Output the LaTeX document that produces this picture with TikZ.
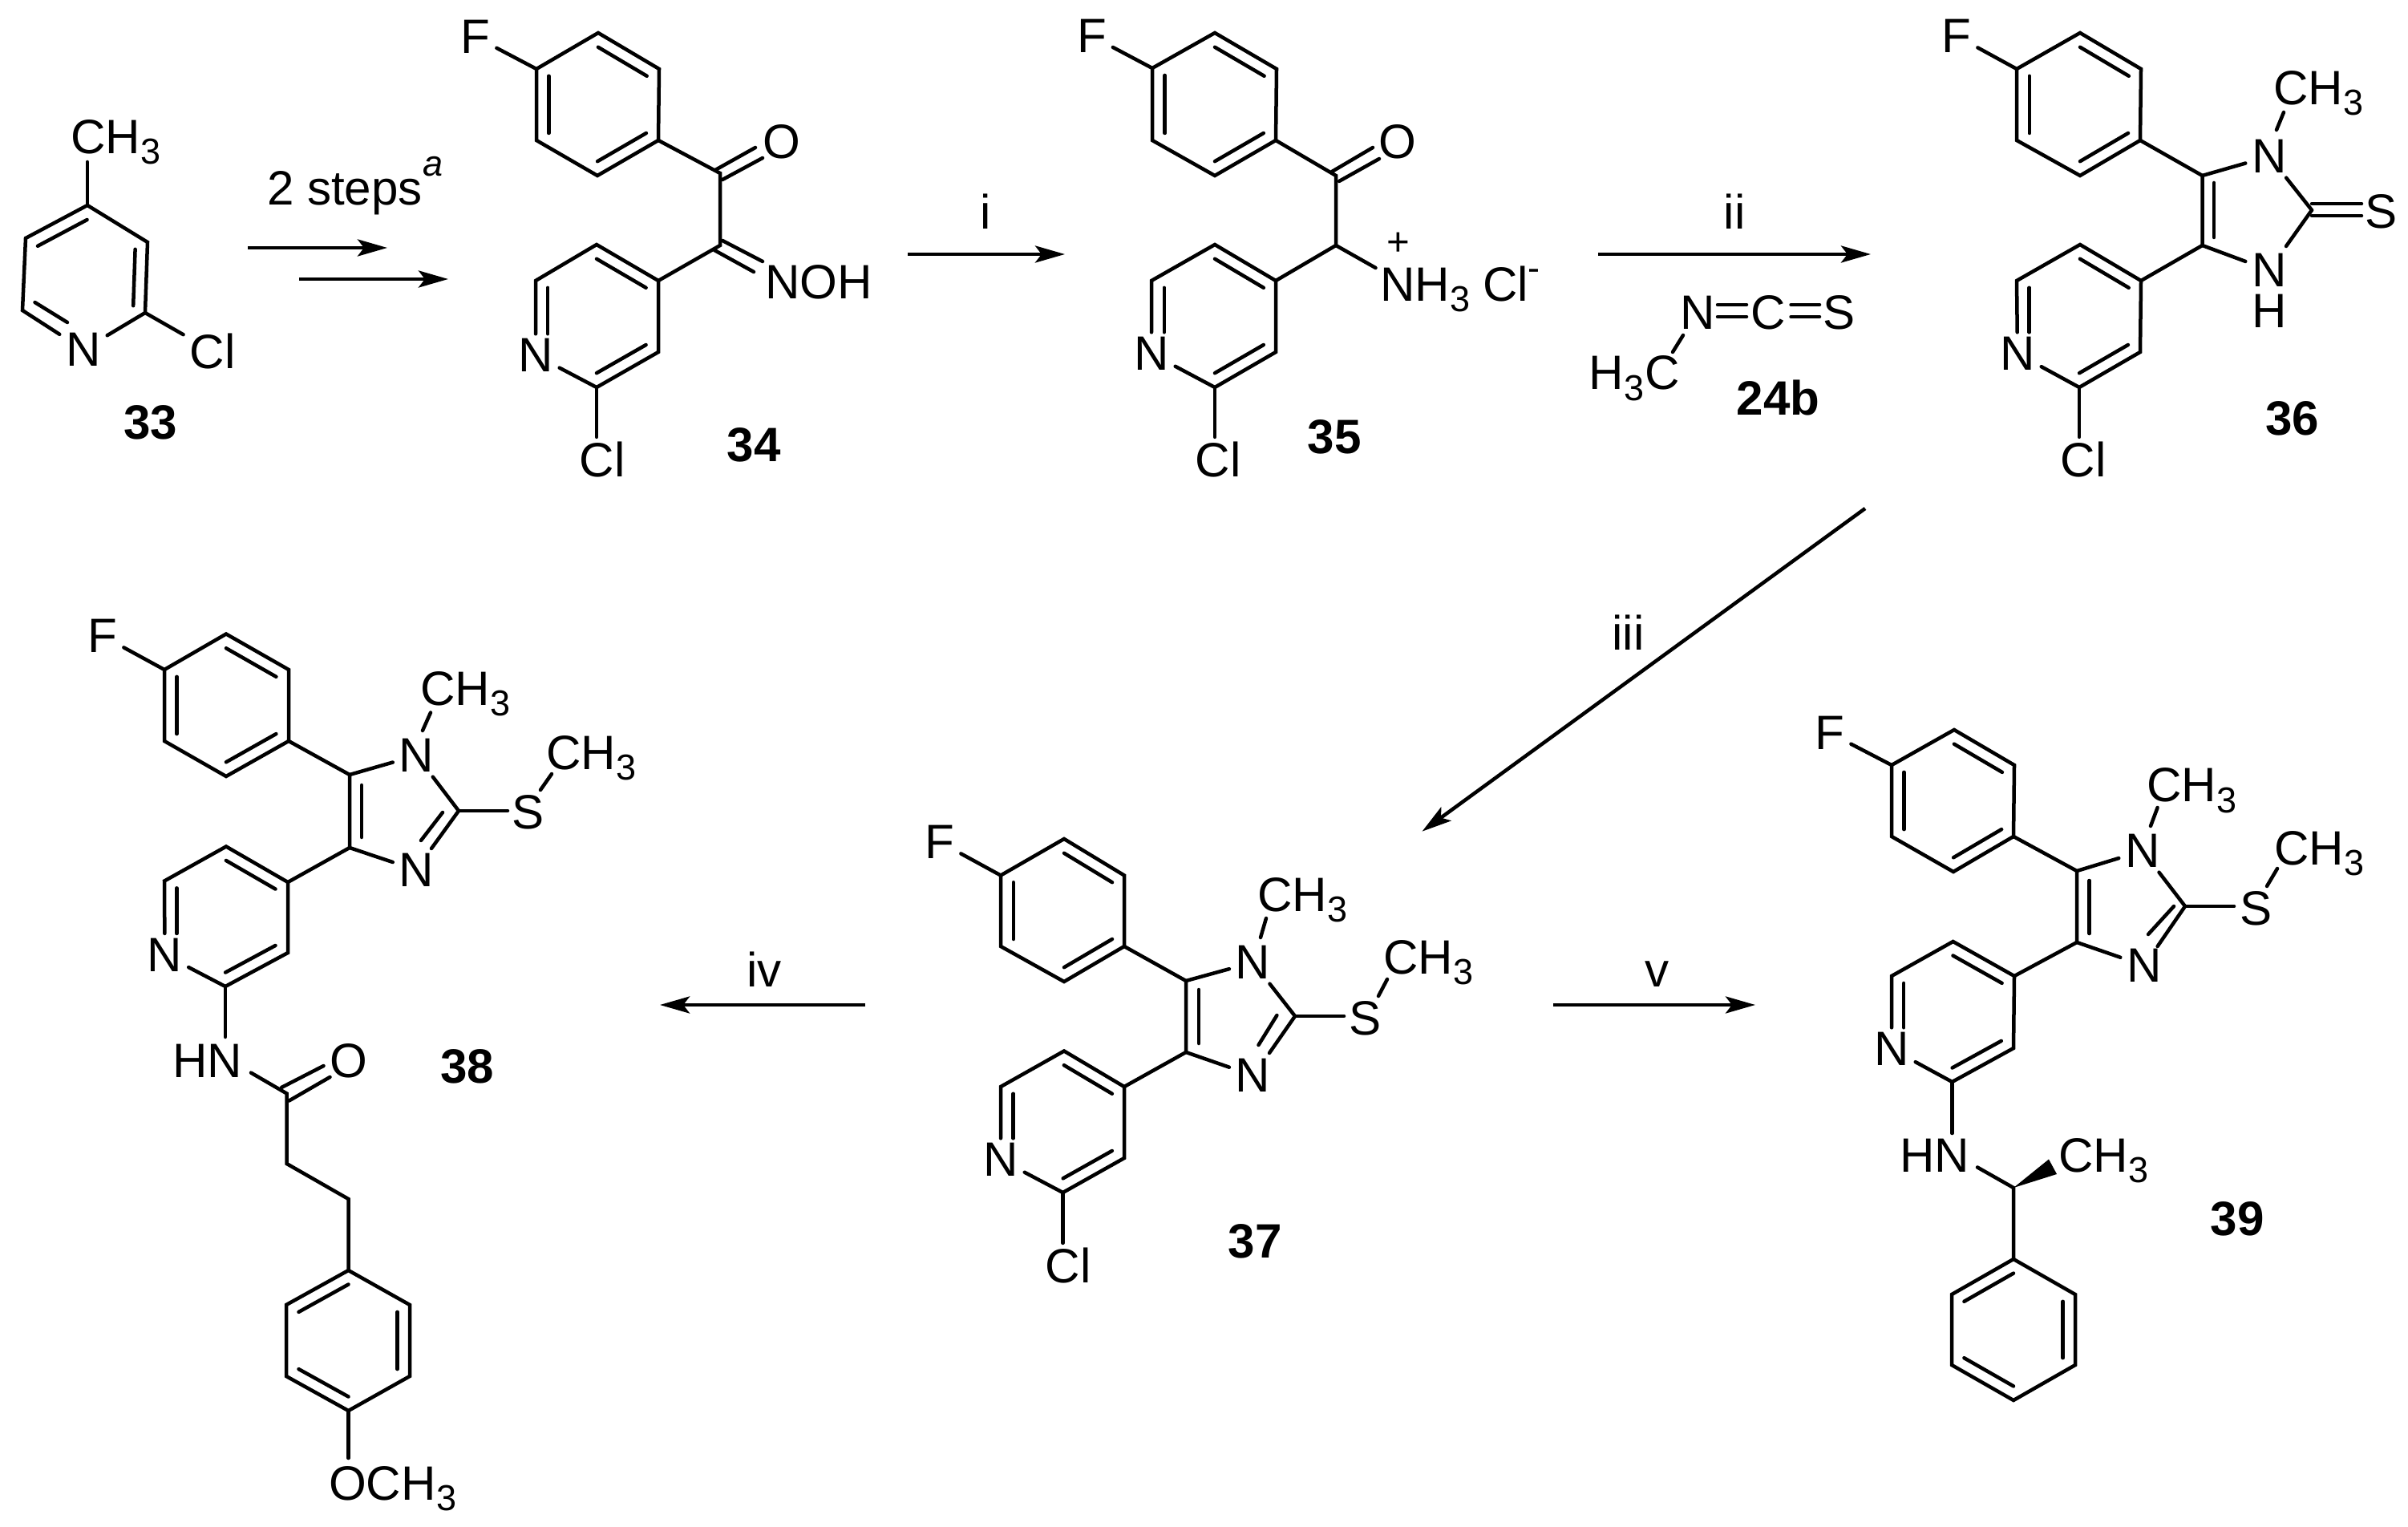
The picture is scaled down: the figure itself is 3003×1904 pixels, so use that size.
\documentclass[tikz,border=0pt]{standalone}
\usepackage{fontspec}
\setmainfont{Liberation Sans}
\usetikzlibrary{calc,arrows.meta}
\newcommand\tsub{\kern.01cm\raisebox{-.13cm}{\fontsize{12.8pt}{12.8pt}\selectfont 3}}
\newcommand\txsz{\fontsize{17.1pt}{19pt}\selectfont}
\tikzset{
  bond/.style={line width=.045cm,line cap=round},
  atom/.style={inner xsep=.08cm,inner ysep=.06cm,outer sep=0pt,font=\txsz},
  lab/.style={inner sep=0pt,outer sep=0pt,anchor=base west,font=\txsz},
  cond/.style={inner sep=0pt,outer sep=0pt,anchor=base,font=\txsz},
  cpd/.style={inner sep=0pt,outer sep=0pt,font=\txsz\bfseries},
  rxn/.style={line width=.045cm,-{Stealth[length=.37cm,width=.21cm,inset=.08cm]}}
}
\newcommand\inb[3]{\draw[bond] ($(#1)!.2!(#3)$) -- ($(#2)!.2!(#3)$);}
\newcommand\seg[3]{\coordinate (#1a) at (#2);\coordinate (#1b) at (#3);\draw[bond] (#1a)--(#1b);}
\newcommand\arw[3]{\coordinate (#1a) at (#2);\coordinate (#1b) at (#3);\draw[rxn] (#1a)--(#1b);}
\newcommand\hexv[7]{\coordinate (#1a) at (#2);\coordinate (#1b) at (#3);\coordinate (#1c) at (#4);
  \coordinate (#1d) at (#5);\coordinate (#1e) at (#6);\coordinate (#1f) at (#7);
  \coordinate (#1o) at ($(#1a)!.5!(#1d)$);
  \draw[bond] (#1a)--(#1b)--(#1c)--(#1d)--(#1e)--(#1f)--cycle;}
% fluorophenyl type: top-ur, lr-bot, ll-ul double
\newcommand\fring[7]{\hexv{#1}{#2}{#3}{#4}{#5}{#6}{#7}
  \inb{#1a}{#1b}{#1o}\inb{#1c}{#1d}{#1o}\inb{#1e}{#1f}{#1o}}
% phenyl type: top-ul, ur-lr, ll-bot double
\newcommand\pring[7]{\hexv{#1}{#2}{#3}{#4}{#5}{#6}{#7}
  \inb{#1a}{#1f}{#1o}\inb{#1b}{#1c}{#1o}\inb{#1e}{#1d}{#1o}}
% pyridine: top, ur, lr, bot, N, ul
\newcommand\pyring[7]{\coordinate (#1a) at (#2);\coordinate (#1b) at (#3);\coordinate (#1c) at (#4);
  \coordinate (#1d) at (#5);\node[atom] (#1N) at (#6) {N};\coordinate (#1f) at (#7);
  \coordinate (#1o) at ($(#1a)!.5!(#1d)$);
  \draw[bond] (#1d)--(#1N)--(#1f)--(#1a)--(#1b)--(#1c)--(#1d);
  \inb{#1a}{#1b}{#1o}\inb{#1c}{#1d}{#1o}
  \coordinate (#1q) at ($(#1f)!.2!(#1o)$);\draw[bond] (#1q)--(#1q |- #1N.north);}
\begin{document}
\begin{tikzpicture}[x=.01cm,y=-.01cm]
\fill[white] (0,0) rectangle (3003,1904);
\useasboundingbox (0,0) rectangle (3003,1904);

% ---- 33
\coordinate (a1) at (109,256);\coordinate (a2) at (184,302);\coordinate (a3) at (181,390);
\coordinate (a5) at (28,387);\coordinate (a6) at (32,297);\coordinate (ao) at (107,346);
\node[atom] (aN) at (104,436) {N};
\node[atom] (aCl) at (265,438) {Cl};
\draw[bond] (aN)--(a3)--(a2)--(a1)--(a6)--(a5)--(aN);
\draw[bond] (a3)--(aCl);
\inb{a1}{a6}{ao}\inb{a2}{a3}{ao}
\seg{aD}{43.5,377}{84,402}
\node[lab] (aMe) at (88,192) {CH\tsub};
\seg{aM}{109,256}{109,202}
\node[cpd] (c33) at (188,527) {33};

% arrows 33->34
\arw{s1}{309,309}{483,309}
\arw{s2}{373,348}{559,348}
\node[lab] (steps) at (333,256) {2 steps\kern.01cm\raisebox{.36cm}{\fontsize{12.8pt}{12.8pt}\selectfont\itshape a}};

% ---- 34
\fring{b}{746,41}{822,86}{821,175}{745,219}{669,175}{669,86}
\node[atom] (bF) at (593,46) {F};
\draw[bond] (bf)--(bF);
\pyring{e}{744,305}{821,350}{821,439}{744,483}{668,443}{668,350}
\coordinate (bCO) at (898,216);\coordinate (bCN) at (898,306);
\draw[bond] (bc)--(bCO)--(bCN)--(eb);
\node[atom] (bO) at (975,177) {O};
\seg{bO1}{892,212}{942,184}\seg{bO2}{901,224}{951,197}
\seg{bN1}{901,300}{951,326}\seg{bN2}{891,312}{940,339}
\node[lab] (bNOH) at (954,373) {NOH};
\node[atom] (eCl) at (751,573) {Cl};
\draw[bond] (ed)--(ed |- eCl.north);
\node[cpd] (c34) at (940,555) {34};

% arrow i
\arw{r1}{1132,317}{1328,317}
\node[cond] (ti) at (1229.5,286) {i};

% ---- 35
\fring{f}{1515,41}{1592,86}{1591,175}{1515,219}{1437,175}{1437,85}
\node[atom] (fF) at (1361.5,45) {F};
\draw[bond] (ff)--(fF);
\pyring{g}{1515,305}{1591,350}{1591,439}{1515,483}{1436,441}{1436,350}
\coordinate (fCO) at (1666,219);\coordinate (fCH) at (1666,306);\coordinate (fNe) at (1715.5,334);
\draw[bond] (fc)--(fCO)--(fCH)--(gb);
\draw[bond] (fCH)--(fNe);
\node[atom] (fO) at (1743,177) {O};
\seg{fO1}{1661,214}{1712,184}\seg{fO2}{1670,226}{1720,198}
\node[lab] (fN) at (1721,376) {NH\tsub};
\node[inner sep=0pt,font=\fontsize{14pt}{14pt}\selectfont] (fp) at (1743.5,304) {+};
\node[lab] (fCl) at (1849,376) {Cl\raisebox{.26cm}{\fontsize{12.8pt}{12.8pt}\selectfont -}};
\node[atom] (gCl) at (1519,573) {Cl};
\draw[bond] (gd)--(gd |- gCl.north);
\node[cpd] (c35) at (1664,545) {35};

% arrow ii, reagent 24b
\arw{r2}{1993,317}{2333,317}
\node[cond] (tii) at (2163,286) {ii};
\node[atom] (iN) at (2117,390) {N};
\node[atom] (iC) at (2205,390) {C};
\node[atom] (iS) at (2294,390) {S};
\seg{iA1}{2142,380}{2178,380}\seg{iA2}{2142,395}{2178,395}
\seg{iB1}{2233.5,380}{2269,380}\seg{iB2}{2233.5,395}{2269,395}
\node[lab] (iMe) at (1981,486) {H\tsub\kern.01cm C};
\seg{iM}{2099,418}{2086,439}
\node[cpd] (c24) at (2217.5,496) {24b};

% ---- 36
\fring{h}{2594,41}{2670,86}{2669,175}{2594,219}{2515,175}{2515,86}
\node[atom] (hF) at (2440,45) {F};
\draw[bond] (hf)--(hF);
\pyring{j}{2594,305}{2670,350}{2669,439}{2593,483}{2516,441}{2515,350}
\coordinate (hC4) at (2746.5,219);\coordinate (hC5) at (2746.5,306);\coordinate (hC2) at (2883,262);
\node[atom] (hN1) at (2830,195) {N};
\node[atom] (hN3) at (2830,337) {N};
\node[atom,inner ysep=0pt] (hH) at (2830,388) {H};
\node[atom] (hS) at (2970,264) {S};
\draw[bond] (hc)--(hC4)--(hC5)--(jb);
\draw[bond] (hC4)--(hN1)--(hC2);
\draw[bond] (hC5)--(hN3);
\seg{hE}{2851,307}{2883,262}
\seg{hI}{2761,228}{2761,296}
\seg{hS1}{2883,254}{2945,254}\seg{hS2}{2883,269}{2945,269}
\seg{hM}{2839,162}{2848,140}
\node[lab] (hMe) at (2835,131) {CH\tsub};
\node[atom] (jCl) at (2598,573) {Cl};
\draw[bond] (jd)--(jd |- jCl.north);
\node[cpd] (c36) at (2858.5,522) {36};

% arrow iii
\arw{r3}{2326,634}{1773.5,1036.7}
\node[cond] (tiii) at (2030.5,810.5) {iii};

% ---- 37
\fring{k}{1327,1046}{1402,1091.5}{1402,1180}{1327,1224}{1248,1180}{1248,1091.5}
\node[atom] (kF) at (1172,1050) {F};
\draw[bond] (kf)--(kF);
\pyring{m}{1327,1310.5}{1402,1355}{1402,1444}{1325.5,1487}{1248,1446}{1248,1355}
\coordinate (kC4) at (1479,1223);\coordinate (kC5) at (1479,1312);\coordinate (kC2) at (1615,1267);
\node[atom] (kN1) at (1562.6,1200) {N};
\node[atom] (kN3) at (1562.6,1341) {N};
\node[atom] (kS) at (1703,1270) {S};
\draw[bond] (kc)--(kC4)--(kC5)--(mb);
\draw[bond] (kC4)--(kN1)--(kC2);
\draw[bond] (kC5)--(kN3);
\seg{kE}{1615,1267}{1583,1313}
\seg{kJ}{1592.4,1266}{1569.5,1303}
\seg{kI}{1495,1234}{1495,1301}
\seg{kT}{1615,1267}{1676,1267}
\seg{kU}{1719,1242}{1730,1221}
\seg{kM}{1572,1169}{1579,1145}
\node[lab] (kMe) at (1568,1136) {CH\tsub};
\node[lab] (kMf) at (1725,1214) {CH\tsub};
\node[atom] (mCl) at (1332,1578) {Cl};
\draw[bond] (md)--(md |- mCl.north);
\node[cpd] (c37) at (1565,1548) {37};

% arrows iv, v
\arw{r4}{1079,1253}{823,1253}
\node[cond] (tiv) at (953,1230) {iv};
\arw{r5}{1937,1253}{2189,1253}
\node[cond] (tv) at (2067,1230) {v};

% ---- 38
\fring{n}{282,790.5}{360,835}{360,924}{282,968}{205,924}{205,835}
\node[atom] (nF) at (128,793) {F};
\draw[bond] (nf)--(nF);
\pyring{p}{282,1055.5}{359,1100}{359,1188}{281,1230}{205.5,1190.6}{205,1098.5}
\coordinate (nC4) at (436,966);\coordinate (nC5) at (436,1057);\coordinate (nC2) at (572,1011);
\node[atom] (nN1) at (519.5,942) {N};
\node[atom] (nN3) at (519.5,1085) {N};
\node[atom] (nS) at (659,1013) {S};
\draw[bond] (nc)--(nC4)--(nC5)--(pb);
\draw[bond] (nC4)--(nN1)--(nC2);
\draw[bond] (nC5)--(nN3);
\seg{nE}{572,1011}{538,1058}
\seg{nJ}{552,1013}{525,1048}
\seg{nI}{451,979}{451,1044}
\seg{nT}{572,1011}{633,1011}
\seg{nU}{674,985}{688,965}
\seg{nM}{527,911}{537,888.5}
\node[lab] (nMe) at (524,879.6) {CH\tsub};
\node[lab] (nMf) at (681,959) {CH\tsub};
\seg{pH}{281,1230}{281,1293}
\node[lab] (pNH) at (215,1343) {HN};
\coordinate (pCO) at (357.6,1363.5);\coordinate (pC1) at (357.6,1451);
\coordinate (pC2) at (434.5,1495);\coordinate (pHe) at (313,1337.6);
\draw[bond] (pHe)--(pCO)--(pC1)--(pC2)--(434.5,1584);
\node[atom] (pO) at (434.5,1323) {O};
\seg{pO1}{351,1356}{403.5,1329}\seg{pO2}{360.5,1372.5}{411.5,1343}
\pring{q}{434.5,1584}{511,1627}{511,1716}{434.5,1759}{357,1716}{357,1627}
\seg{qO}{434.5,1759}{434.5,1818}
\node[lab] (qMe) at (410,1870) {OCH\tsub};
\node[cpd] (c38) at (582.6,1330) {38};

% ---- 39
\fring{t}{2437,910}{2512,954}{2511,1043}{2436,1087}{2359,1043}{2359,954}
\node[atom] (tF) at (2282,914) {F};
\draw[bond] (tf)--(tF);
\pyring{u}{2435.6,1174}{2512,1217}{2511,1307}{2434.5,1349}{2359,1308}{2359,1217}
\coordinate (tC4) at (2590,1086);\coordinate (tC5) at (2590,1175);\coordinate (tC2) at (2725,1130);
\node[atom] (tN1) at (2672,1061) {N};
\node[atom] (tN3) at (2674,1204) {N};
\node[atom] (tS) at (2813.5,1133) {S};
\draw[bond] (tc)--(tC4)--(tC5)--(ub);
\draw[bond] (tC4)--(tN1)--(tC2);
\draw[bond] (tC5)--(tN3);
\seg{tE}{2725,1130}{2690.6,1180}
\seg{tJ}{2711,1130}{2679,1165}
\seg{tI}{2605.6,1098}{2605.6,1164}
\seg{tT}{2725,1130}{2786,1130}
\seg{tU}{2827,1105}{2840,1083}
\seg{tM}{2682,1030}{2690.6,1007}
\node[lab] (tMe) at (2677,1000) {CH\tsub};
\node[lab] (tMf) at (2836,1078) {CH\tsub};
\seg{uH}{2434.5,1349}{2434.5,1413}
\node[lab] (uNH) at (2369,1461) {HN};
\coordinate (uC) at (2511,1481);\coordinate (uHe) at (2466,1455.5);
\coordinate (uW1) at (2555,1445.5);\coordinate (uW2) at (2565,1464);
\draw[bond] (uHe)--(uC)--(2511,1570);
\fill (uC)--(uW1)--(uW2)--cycle;
\node[lab] (uMe) at (2567,1461) {CH\tsub};
\pring{v}{2511,1570}{2588,1614}{2588,1702}{2511,1746}{2434,1702}{2434,1614}
\node[cpd] (c39) at (2790,1520) {39};
\end{tikzpicture}
\end{document}
